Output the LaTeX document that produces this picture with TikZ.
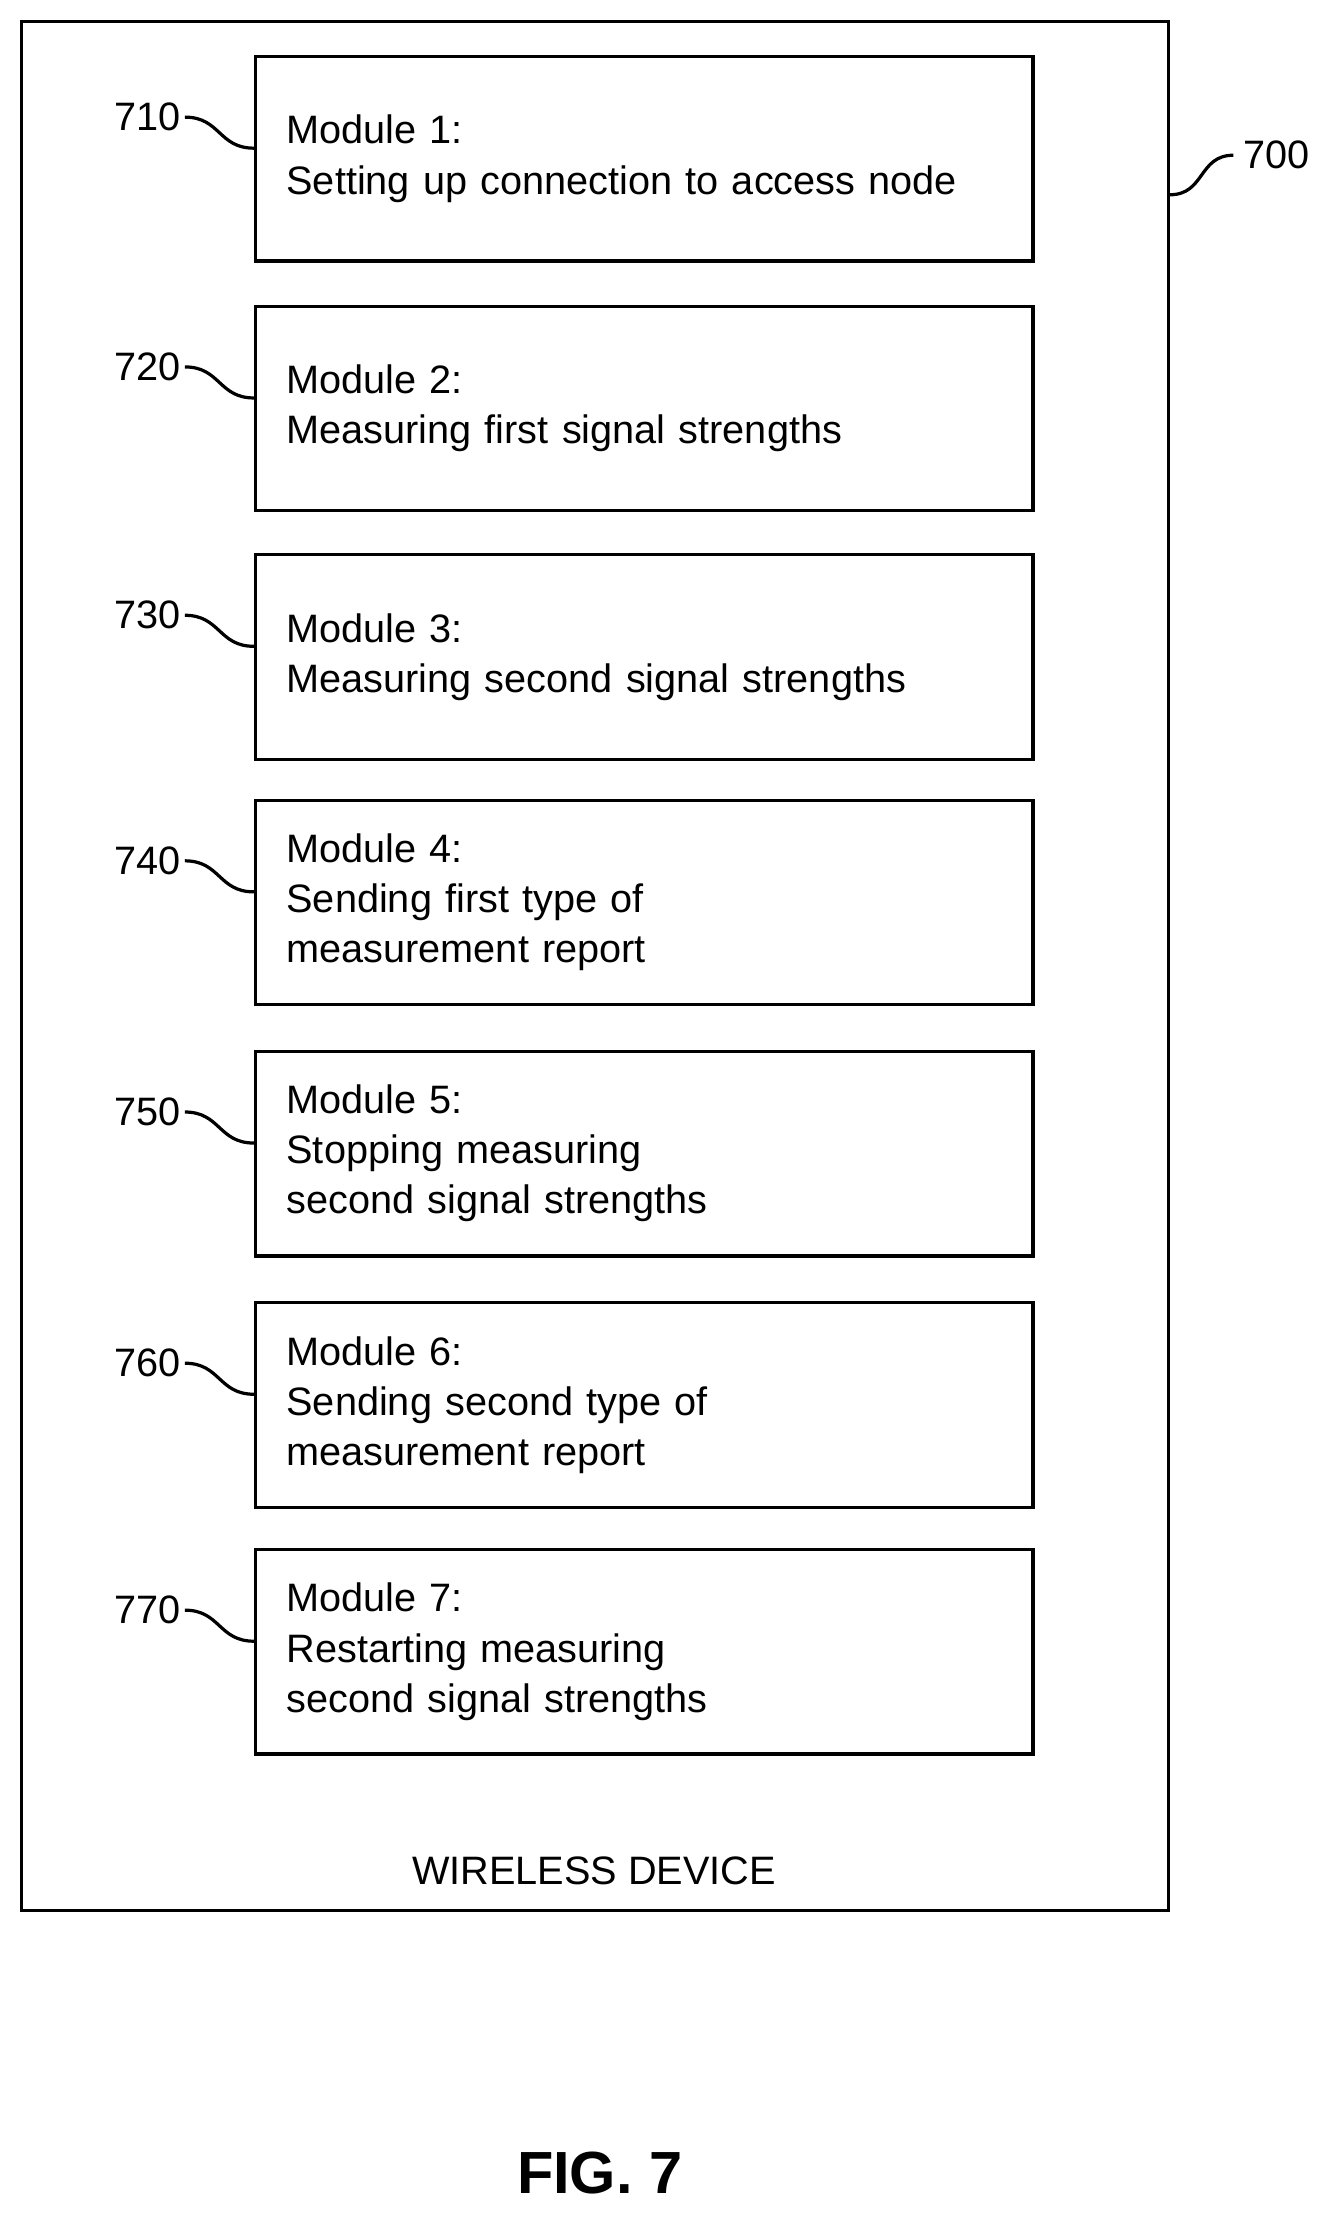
\documentclass[tikz,border=0pt]{standalone}
\usepackage{fontspec}
\setmainfont{Liberation Sans}
\usetikzlibrary{positioning}
\begin{document}
\begin{tikzpicture}[x=0.02cm,y=-0.02cm,line width=1.3pt]
    \tikzstyle{module}=[draw,rectangle,minimum width=11.02cm,minimum height=2.9cm,
        text width=10.14cm,align=left,inner sep=0pt,font=\fontsize{16}{20.2}\selectfont]
    \tikzstyle{refnum}=[font=\fontsize{16}{18}\selectfont,anchor=east,inner sep=1pt]
    \tikzstyle{squiggle}=[line width=1.3pt,out=0,in=180,looseness=1.2]
    \useasboundingbox (0,0) rectangle (943,1576);
    % Outer box
    \node[draw,rectangle,minimum width=16.26cm,minimum height=26.78cm,inner sep=0pt] (WD) at (421.5,684.5) {};
    \node[font=\fontsize{16}{18}\selectfont] (WDL) at (421,1326) {WIRELESS DEVICE};
    \node[font=\fontsize{16}{18}\selectfont,anchor=west] (R-0) at (874,110) {700};
    \draw[squiggle] (WD.east |- 0,138) to (R-0.west);
    % Modules
    \foreach \n/\y/\txt in {1/114/{Module 1:\\Setting up connection to access node},
                            2/291/{Module 2:\\Measuring first signal strengths},
                            3/467/{Module 3:\\Measuring second signal strengths},
                            4/641/{Module 4:\\Sending first type of\\measurement report},
                            5/819/{Module 5:\\Stopping measuring\\second signal strengths},
                            6/997/{Module 6:\\Sending second type of\\measurement report},
                            7/1172/{Module 7:\\Restarting measuring\\second signal strengths}} {
        \node[module] (M-\n) at (456.5,\y-1.5) {\txt};
        \node[refnum] (R-\n) at (131,\y-31) {7\n0};
        \draw[squiggle] (R-\n.east) to ([yshift=-0.44cm]M-\n.west |- R-\n.east);
    }
    \node[font=\bfseries\fontsize{24}{28}\selectfont] (FIG) at (425,1540) {FIG. 7};
\end{tikzpicture}
\end{document}
